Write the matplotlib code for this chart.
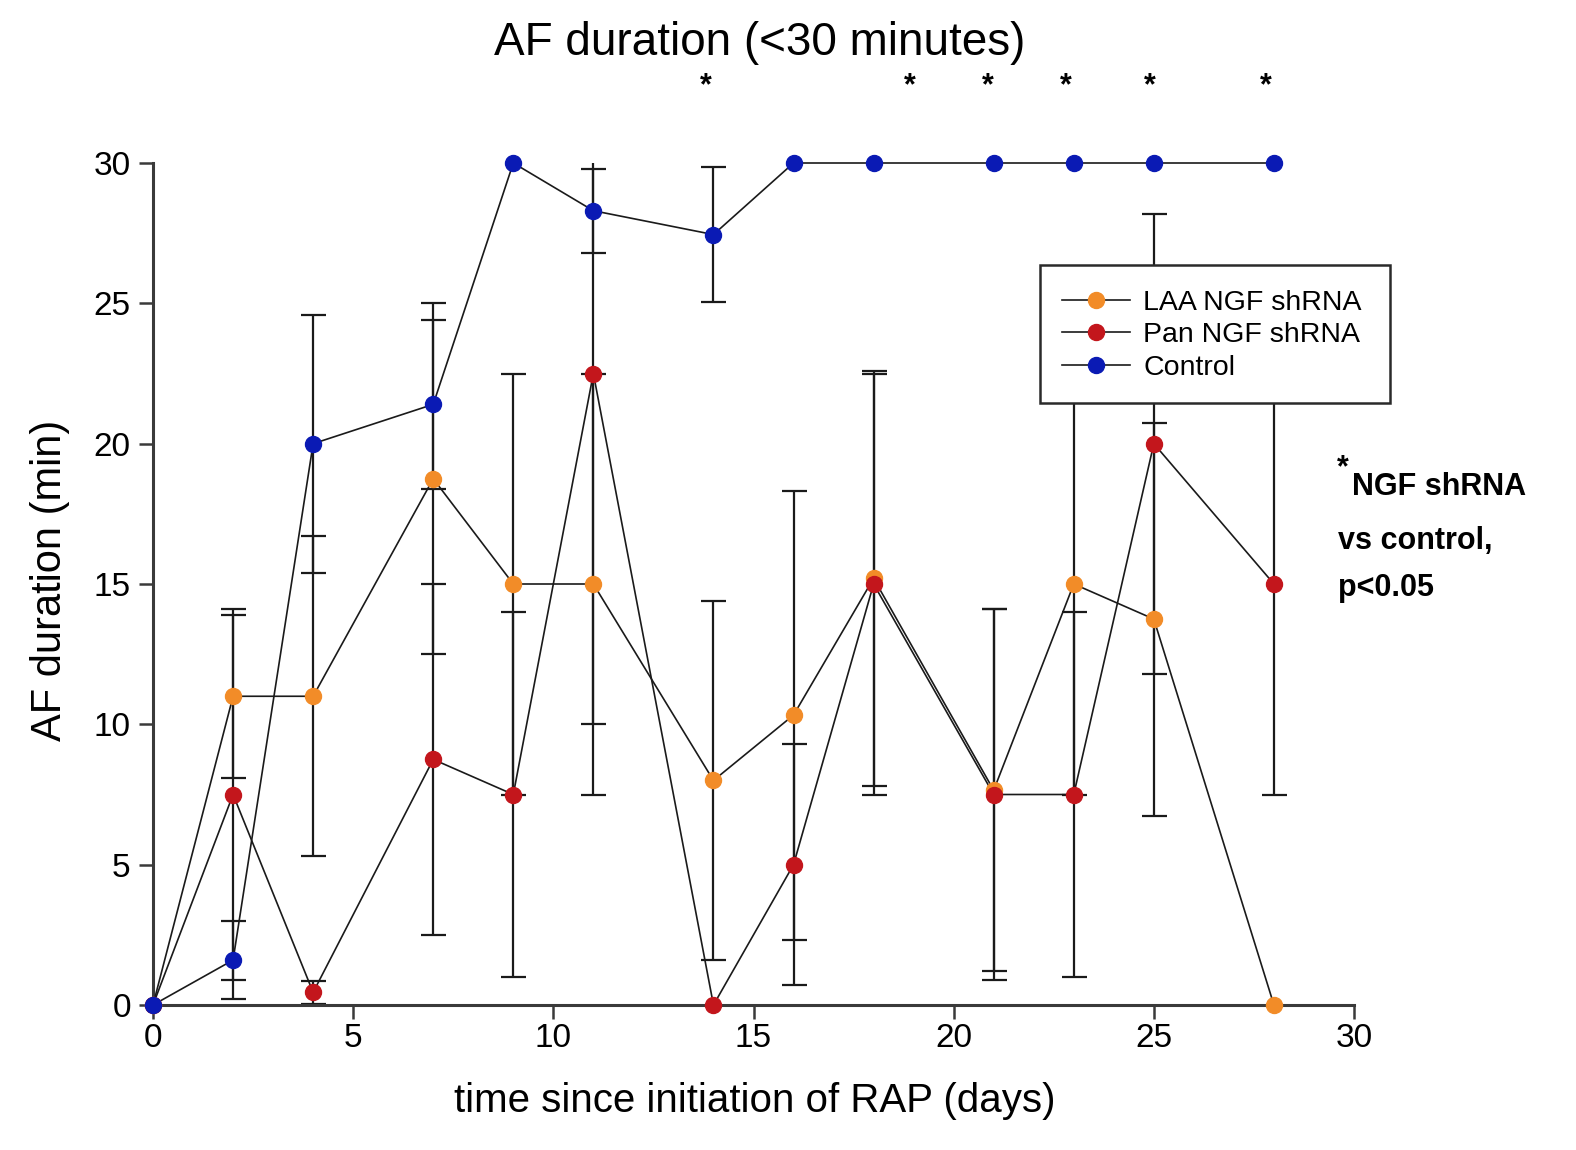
import matplotlib
matplotlib.use("Agg")
import matplotlib.pyplot as plt
from matplotlib.lines import Line2D
from matplotlib.patches import Rectangle

plt.rcParams['font.family'] = ['Liberation Sans', 'DejaVu Sans']

# data (minutes)
days = [0, 2, 4, 7, 9, 11, 14, 16, 18, 21, 23, 25, 28]
laa = [0, 11, 11, 18.75, 15, 15, 8, 10.33, 15.2, 7.65, 15, 13.75, 0]
laa_err = [0, 2.9, 5.7, 6.25, 7.5, 7.5, 6.4, 8.0, 7.4, 6.45, 7.5, 7.0, 0]
pan = [0, 7.5, 0.45, 8.75, 7.5, 22.5, 0, 5, 15, 7.5, 7.5, 20, 15]
pan_err = [0, 6.6, 0.4, 6.25, 6.5, 12.5, 0, 4.3, 7.5, 6.6, 6.5, 8.2, 7.5]
control = [0, 1.6, 20, 21.4, 30, 28.3, 27.45, 30, 30, 30, 30, 30, 30]
control_err = [0, 1.4, 4.6, 3.0, 0, 1.5, 2.4, 0, 0, 0, 0, 0, 0]

series_names = ['LAA NGF shRNA', 'Pan NGF shRNA', 'Control']
series_colors = ['#F28C28', '#C3161C', '#0A1AB4']

star_days = [13.8, 18.9, 20.85, 22.8, 24.9, 27.8]

xticks = [0, 5, 10, 15, 20, 25, 30]
yticks = [0, 5, 10, 15, 20, 25, 30]

W, H = 1576, 1150
fig = plt.figure(figsize=(W / 100, H / 100), dpi=100)
ax = fig.add_axes([153 / W, 1 - 1005 / H, (1354 - 153) / W, (1005 - 163) / H])

axis_col = '#3a3a3a'

# error bars first (black, clipped to the axes)
for vals, errs in [(laa, laa_err), (pan, pan_err), (control, control_err)]:
    xs = [d for d, e in zip(days, errs) if e > 0]
    ys = [v for v, e in zip(vals, errs) if e > 0]
    es = [e for e in errs if e > 0]
    ax.errorbar(xs, ys, yerr=es, fmt='none', ecolor='#1a1a1a', elinewidth=1.6,
                capsize=9, capthick=1.6, zorder=2)

# lines with coloured markers
for vals, col, name in zip([laa, pan, control], series_colors, series_names):
    ax.plot(days, vals, color='#1a1a1a', lw=1.2, zorder=3, clip_on=False)
    ax.plot(days, vals, ls='none', marker='o', ms=11.5, mfc=col, mec=col,
            zorder=4, clip_on=False, label=name)

ax.set_xlim(0, 30)
ax.set_ylim(0, 30)
ax.set_xticks(xticks)
ax.set_yticks(yticks)
ax.spines['top'].set_visible(False)
ax.spines['right'].set_visible(False)
for s in ['left', 'bottom']:
    ax.spines[s].set_linewidth(2.2)
    ax.spines[s].set_color(axis_col)
ax.tick_params(direction='out', length=10, width=1.8, color=axis_col,
               labelsize=24)
ax.tick_params(axis='y', pad=6)
ax.tick_params(axis='x', pad=3)

# significance stars
for d in star_days:
    ax.text(d, 32.75, '*', ha='center', va='center', fontsize=22,
            fontweight='bold', clip_on=False)

# legend box drawn over the error bars
box = Rectangle((1040 / W, 1 - 403 / H), (1390 - 1040) / W, (403 - 265) / H,
                transform=fig.transFigure, facecolor='white', edgecolor='#2a2a2a',
                lw=1.8, zorder=10, clip_on=False)
ax.add_patch(box)
handles = [Line2D([0], [0], color='#1a1a1a', lw=1.2, marker='o', ms=11.5,
                  mfc=c, mec=c) for c in series_colors]
leg = ax.legend(handles, series_names, loc='upper left',
                bbox_to_anchor=(1062 / W, 1 - 290 / H),
                bbox_transform=fig.transFigure, frameon=False, fontsize=20.5,
                handlelength=2.4, handletextpad=0.45, labelspacing=0.22,
                borderpad=0, borderaxespad=0)
leg.set_zorder(11)

fig.text(760 / W, 1 - 55 / H, 'AF duration (<30 minutes)', ha='center',
         va='baseline', fontsize=33)
fig.text(755 / W, 1 - 1112 / H, 'time since initiation of RAP (days)',
         ha='center', va='baseline', fontsize=29)
fig.text(50 / W, 1 - 580 / H, 'AF duration (min)', ha='center', va='center',
         rotation=90, fontsize=30)

# side note
fig.text(1337 / W, 1 - 476 / H, '*', ha='left', va='baseline', fontsize=22,
         fontweight='bold')
fig.text(1352 / W, 1 - 495 / H, 'NGF shRNA', ha='left', va='baseline',
         fontsize=22, fontweight='bold')
fig.text(1338 / W, 1 - 549 / H, 'vs control,', ha='left', va='baseline',
         fontsize=22, fontweight='bold')
fig.text(1338 / W, 1 - 596 / H, 'p<0.05', ha='left', va='baseline',
         fontsize=22, fontweight='bold')

fig.savefig('out.png', dpi=100)
